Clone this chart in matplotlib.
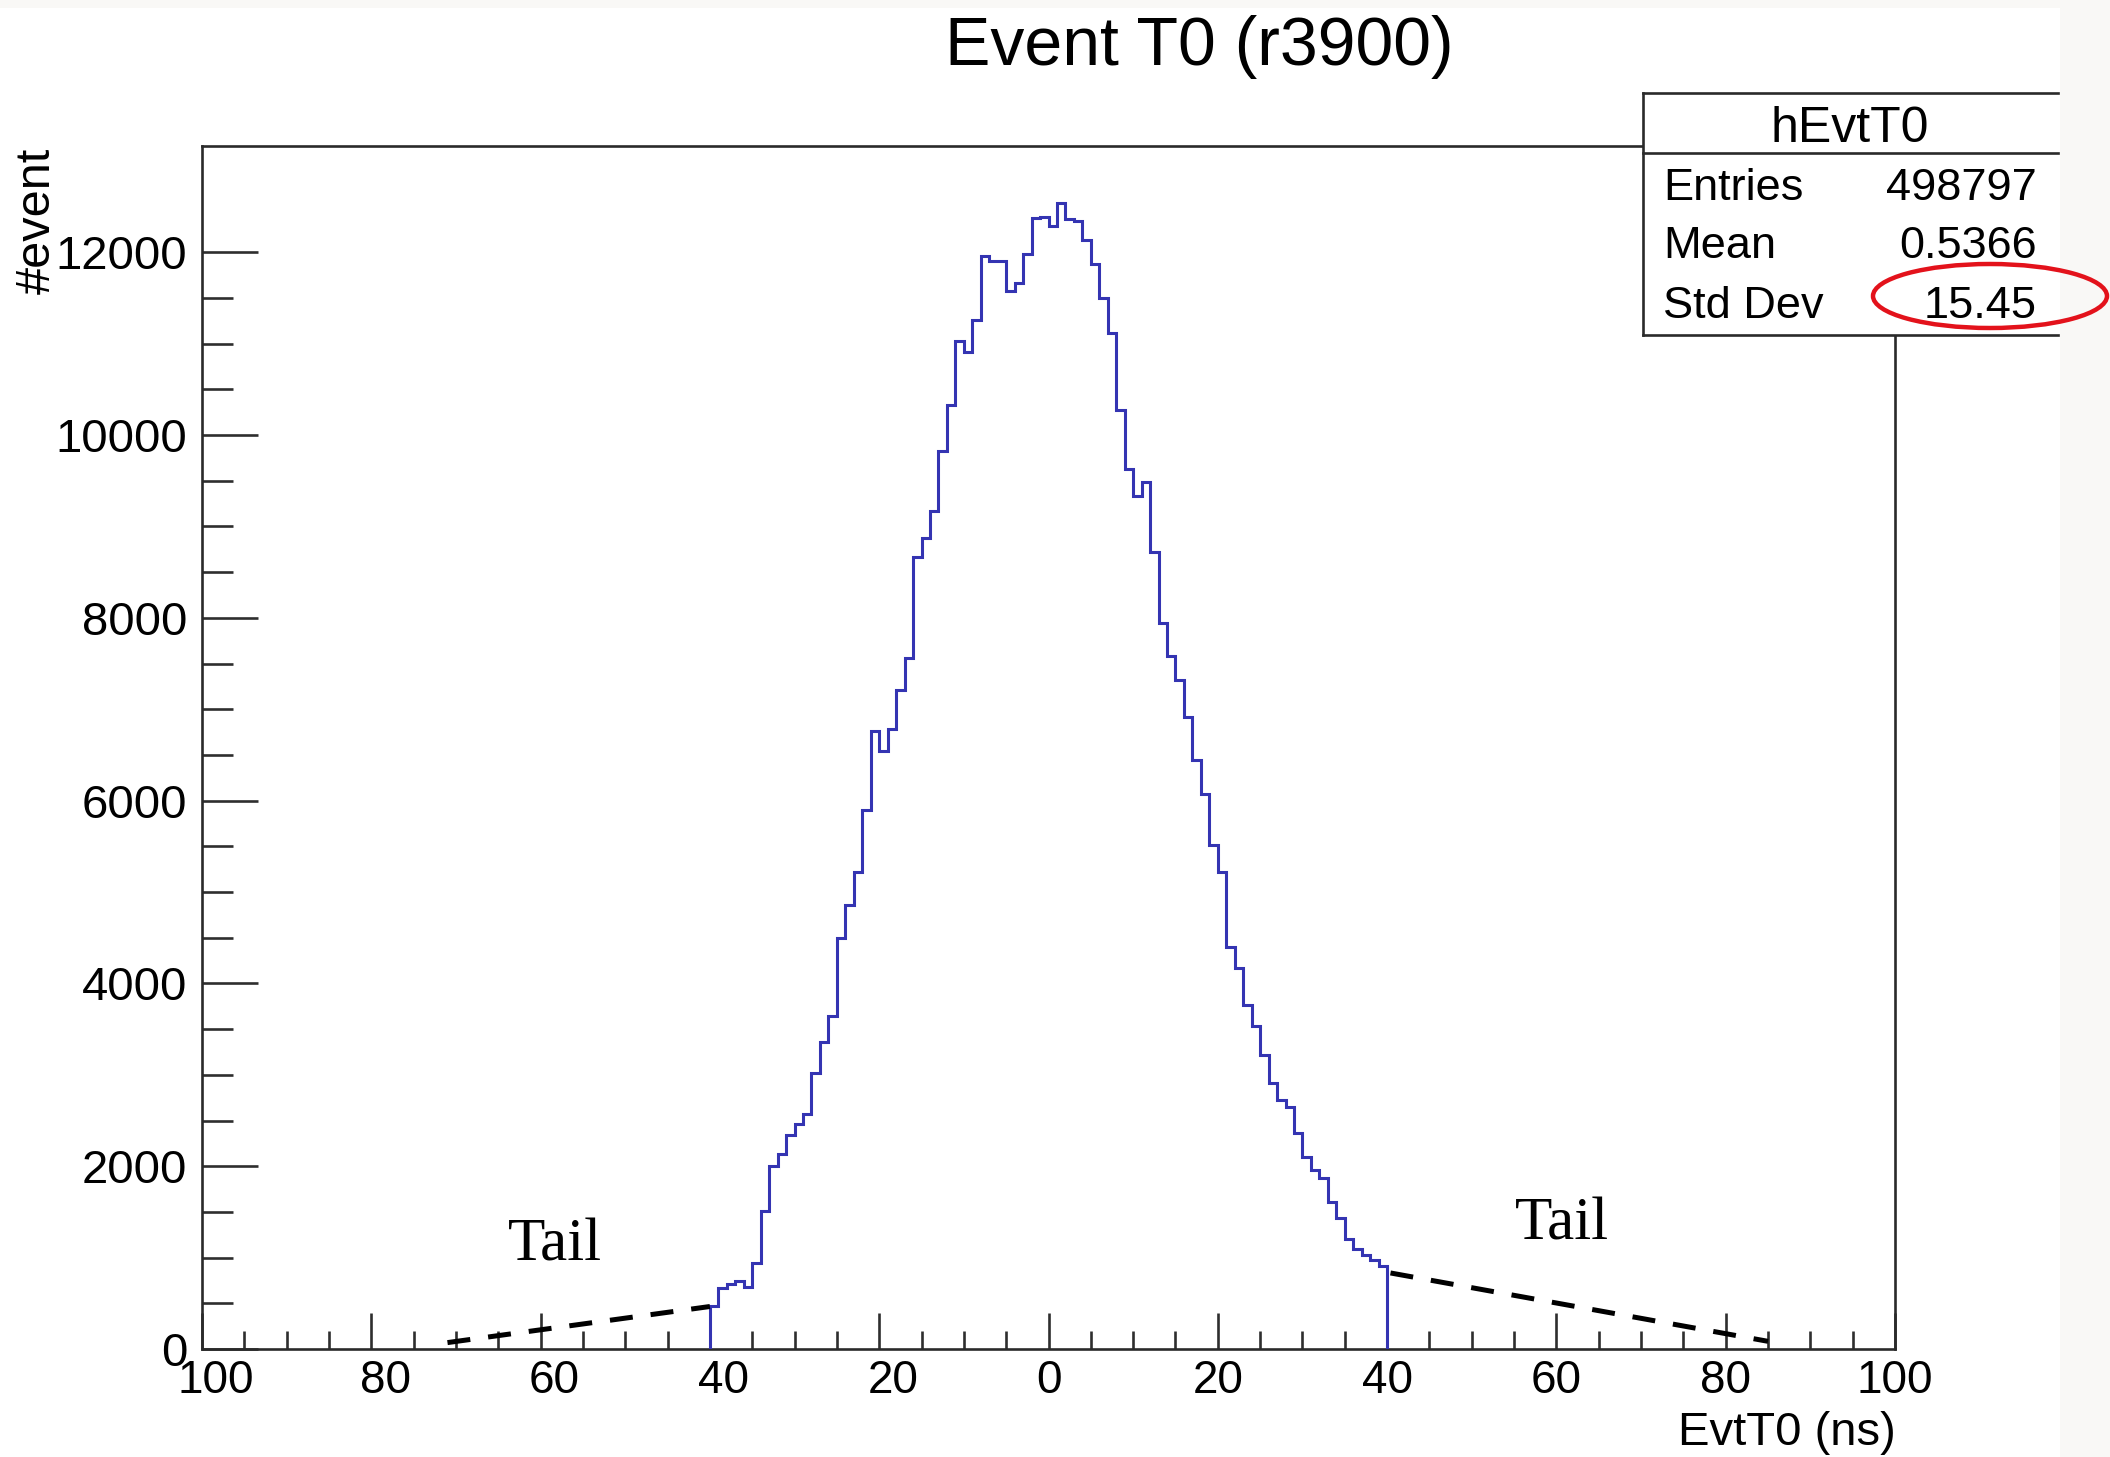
#!/usr/bin/env python3
# Event T0 histogram (ROOT style canvas) redrawn with matplotlib
import numpy as np
import matplotlib.pyplot as plt
from matplotlib.patches import Rectangle, Ellipse
from matplotlib.lines import Line2D
from matplotlib.transforms import ScaledTranslation

plt.rcParams['font.family'] = ['Liberation Sans', 'DejaVu Sans']

# Histogram content: 1 ns bins from -40 to 40 ns
bin_edges = np.arange(-40, 41, 1)
counts = [475, 670, 710, 740, 677, 938, 1510, 2000, 2135, 2340,
          2458, 2570, 3015, 3355, 3648, 4495, 4855, 5220, 5898, 6765,
          6540, 6780, 7209, 7560, 8670, 8872, 9167, 9831, 10324, 11025,
          10909, 11255, 11960, 11901, 11901, 11573, 11668, 11986, 12373, 12390,
          12285, 12541, 12365, 12337, 12135, 11870, 11495, 11113, 10270, 9626,
          9337, 9483, 8726, 7941, 7585, 7321, 6915, 6450, 6069, 5516,
          5223, 4401, 4170, 3759, 3529, 3215, 2913, 2724, 2653, 2368,
          2104, 1961, 1873, 1605, 1437, 1203, 1089, 1026, 972, 909]

# Axis ticks (minus signs are lost in the original picture)
x_ticks = [-100, -80, -60, -40, -20, 0, 20, 40, 60, 80, 100]
x_tick_labels = ['100', '80', '60', '40', '20', '0', '20', '40', '60', '80', '100']
y_ticks = [0, 2000, 4000, 6000, 8000, 10000, 12000]
y_tick_labels = ['0', '2000', '4000', '6000', '8000', '10000', '12000']

# Stats box
stats_title = 'hEvtT0'
stats_names = ['Entries', 'Mean', 'Std Dev']
stats_values = ['498797', '0.5366', '15.45']

# Hand drawn "tail" guides
tail_left_x = [-71, -40]
tail_left_y = [70, 465]
tail_right_x = [40.4, 85]
tail_right_y = [832, 84]
tail_label_x = [-58.3, 60.7]
tail_label_y = [966, 1196]

W, H = 2110, 1457


def fx(x):
    return x / W


def fy(y):
    return 1 - y / H


fig = plt.figure(figsize=(W / 100, H / 100), dpi=100)
fig.patch.set_facecolor('white')

# screenshot borders
fig.add_artist(Rectangle((fx(2060), 0), 1 - fx(2060), 1, transform=fig.transFigure,
                         facecolor='#f9f8f6', edgecolor='none', zorder=0))
fig.add_artist(Rectangle((0, fy(8)), 1, 1 - fy(8), transform=fig.transFigure,
                         facecolor='#f9f8f6', edgecolor='none', zorder=0))

ax = fig.add_axes([fx(202), fy(1349), fx(1895) - fx(202), fy(146) - fy(1349)])

ax.stairs(counts, bin_edges, baseline=0, color='#3434b2', linewidth=2.2, zorder=3)

# tails
ax.plot(tail_left_x, tail_left_y, color='black', linewidth=3.6,
        linestyle=(0, (4.6, 3.6)), solid_capstyle='butt', zorder=4)
ax.plot(tail_right_x, tail_right_y, color='black', linewidth=3.6,
        linestyle=(0, (4.6, 3.6)), solid_capstyle='butt', zorder=4)
for tx, ty in zip(tail_label_x, tail_label_y):
    ax.text(tx, ty, 'Tail', family=['Liberation Serif', 'DejaVu Serif'], fontsize=44,
            ha='center', va='baseline', color='black')

ax.set_xlim(-100, 100)
ax.set_ylim(0, 13163)

ax.set_xticks(x_ticks)
ax.set_xticklabels(x_tick_labels)
ax.set_xticks(np.arange(-100, 101, 5), minor=True)
ax.set_yticks(y_ticks)
ax.set_yticklabels(y_tick_labels)
ax.set_yticks(np.arange(0, 12001, 500), minor=True)

tick_color = '#2e2e2e'
ax.tick_params(axis='x', which='major', direction='in', length=26, width=1.9,
               pad=7, labelsize=33, color=tick_color)
ax.tick_params(axis='x', which='minor', direction='in', length=13, width=1.9,
               color=tick_color)
ax.tick_params(axis='y', which='major', direction='in', length=40, width=1.9,
               pad=10.5, labelsize=34, color=tick_color)
ax.tick_params(axis='y', which='minor', direction='in', length=22, width=1.9,
               color=tick_color)
for sp in ax.spines.values():
    sp.set_linewidth(1.9)
    sp.set_color('#2a2a2a')

# labels of negative ticks sit where the lost minus sign pushed them
shift = ScaledTranslation(14 / 100, 0, fig.dpi_scale_trans)
for tick, val in zip(ax.xaxis.get_major_ticks(), x_ticks):
    if val < 0:
        tick.label1.set_transform(tick.label1.get_transform() + shift)

# titles
fig.text(fx(1199), fy(65), 'Event T0 (r3900)', fontsize=49, ha='center', va='baseline')
fig.text(fx(1896), fy(1445), 'EvtT0 (ns)', fontsize=34, ha='right', va='baseline')
fig.text(fx(37), fy(148), '#event', fontsize=35, rotation=90, ha='center', va='top')

# stats box
box_l, box_r, box_t, box_s, box_b = 1643, 2058, 93, 153, 335
fig.add_artist(Rectangle((fx(box_l), fy(box_b)), fx(box_r) - fx(box_l), fy(box_t) - fy(box_b),
                         transform=fig.transFigure, facecolor='white', edgecolor='none', zorder=5))
for yy in [box_t, box_s, box_b]:
    fig.add_artist(Line2D([fx(box_l), fx(box_r)], [fy(yy), fy(yy)], transform=fig.transFigure,
                          color='#2a2a2a', linewidth=1.9, zorder=6))
fig.add_artist(Line2D([fx(box_l), fx(box_l)], [fy(box_t), fy(box_b)], transform=fig.transFigure,
                      color='#2a2a2a', linewidth=1.9, zorder=6))
fig.text(fx(1850), fy(142), stats_title, fontsize=36, ha='center', va='baseline', zorder=7)
row_base = [200, 258, 318]
for name, value, yb in zip(stats_names, stats_values, row_base):
    fig.text(fx(1663), fy(yb), name, fontsize=32.5, ha='left', va='baseline', zorder=7)
    fig.text(fx(2037), fy(yb), value, fontsize=32.5, ha='right', va='baseline', zorder=7)

# red ellipse around the std dev
fig.add_artist(Ellipse((fx(1990), fy(296)), 234 / W, 64 / H, transform=fig.transFigure,
                       facecolor='none', edgecolor='#e3121b', linewidth=3.2, zorder=8))

fig.savefig('out.png', dpi=100)
